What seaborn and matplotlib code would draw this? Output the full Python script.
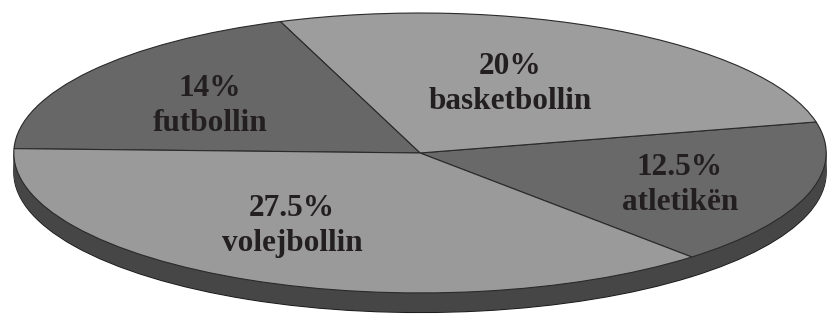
import numpy as np
import matplotlib
matplotlib.use("Agg")
import matplotlib.pyplot as plt
import seaborn as sns
from matplotlib import font_manager as fm

# -----------------------------
# Data
# -----------------------------
sports = ["atletikën", "basketbollin", "futbollin", "volejbollin"]
shares = [12.5, 20, 14, 27.5]
pct_labels = ["12.5%", "20%", "14%", "27.5%"]

# label centres on the top face (axes data units, unit circle)
label_pos = [(0.640, -0.229), (0.222, 0.493), (-0.517, 0.336), (-0.315, -0.521)]

# -----------------------------
# Style
# -----------------------------
sns.set_style("white")

top_colors = sns.color_palette(["#696969", "#9d9d9d", "#676767", "#9a9a9a"])
side_color = "#464646"
start = -48
depth = 0.14
xlim = (-1.034, 1.002)
ylim = (-1.179, 1.093)

serif_bold = fm.findfont(fm.FontProperties(family="Liberation Serif", weight="bold"))

fig = plt.figure(figsize=(8.27, 3.18), dpi=100)

# -----------------------------
# Side of the disc (own axes, behind)
# -----------------------------
ax_side = fig.add_axes([0, 0, 1, 1], zorder=1)
offsets = np.linspace(depth, 0.005, 30)
for k, off in enumerate(offsets):
    side_w, side_t = ax_side.pie(shares, center=(0, -off), startangle=start,
                                 colors=[side_color] * 4,
                                 wedgeprops=dict(linewidth=0.8 if k == 0 else 0,
                                                 edgecolor="#1e1e1e"))
    for t in side_t:
        t.remove()
ax_side.set_aspect("auto")
ax_side.set_xlim(*xlim)
ax_side.set_ylim(*ylim)
ax_side.axis("off")

# -----------------------------
# Top face (own axes, in front)
# -----------------------------
ax = fig.add_axes([0, 0, 1, 1], zorder=2)
ax.patch.set_alpha(0)
wedges, texts = ax.pie(
    shares,
    startangle=start,
    colors=top_colors,
    labels=[f"{p}\n{s}" for p, s in zip(pct_labels, sports)],
    labeldistance=0.6,
    wedgeprops=dict(linewidth=0.8, edgecolor="#2a2a2a"),
)
for t, pos in zip(texts, label_pos):
    t.set_position(pos)
    t.set_ha("center")
    t.set_va("center")
    t.set_fontproperties(fm.FontProperties(fname=serif_bold, size=22.5))
    t.set_color("#231f20")
    t.set_linespacing(1.25)

ax.set_aspect("auto")
ax.set_xlim(*xlim)
ax.set_ylim(*ylim)
ax.axis("off")

fig.savefig("out.png", dpi=100)
plt.close(fig)
